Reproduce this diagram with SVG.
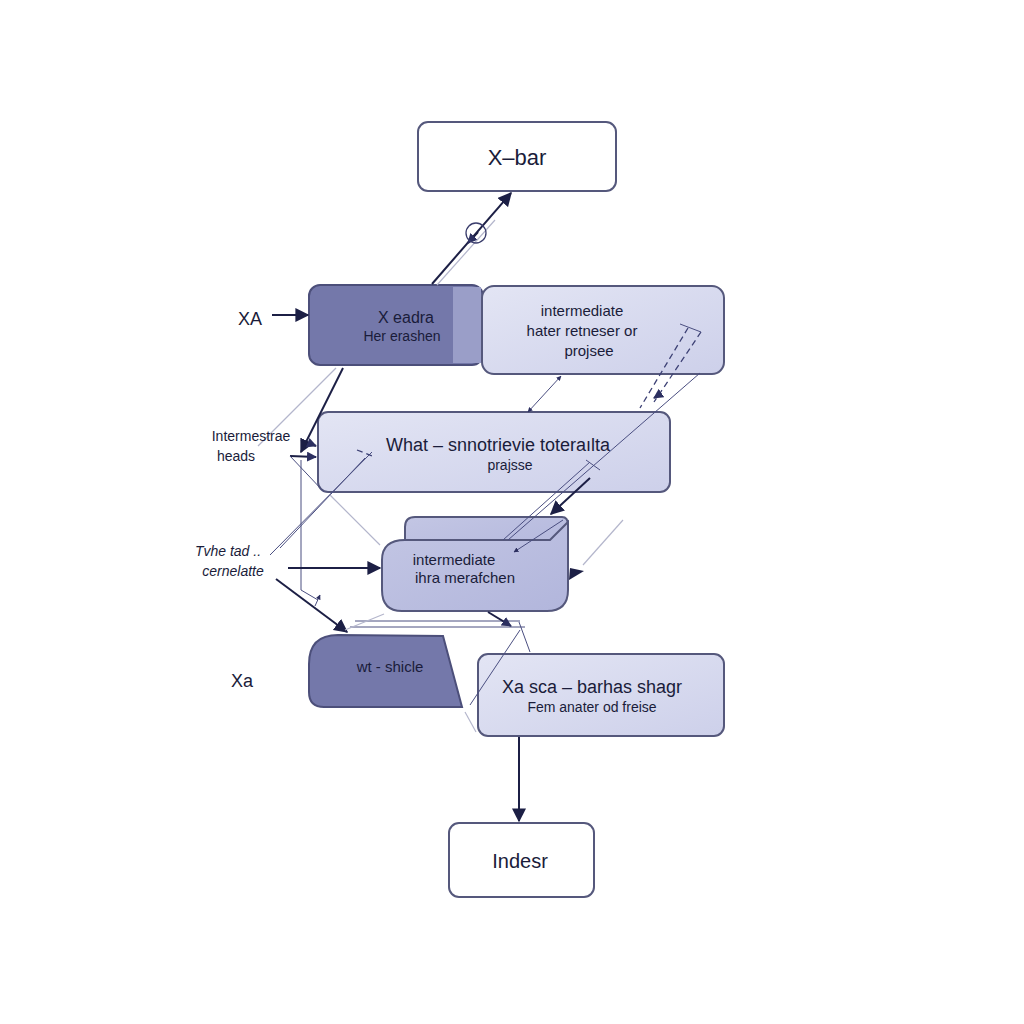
<svg xmlns="http://www.w3.org/2000/svg" width="1024" height="1024" viewBox="0 0 1024 1024">
<defs>
<marker id="ah" viewBox="0 0 10 10" refX="9" refY="5" markerWidth="7" markerHeight="7" orient="auto-start-reverse"><path d="M0,0 L10,5 L0,10 z" fill="#1c1f45"/></marker>
<marker id="ahs" viewBox="0 0 10 10" refX="9" refY="5" markerWidth="5" markerHeight="5" orient="auto-start-reverse"><path d="M0,0 L10,5 L0,10 z" fill="#2c2f60"/></marker>
<linearGradient id="lite" x1="0" y1="0" x2="1" y2="1"><stop offset="0" stop-color="#e3e5f4"/><stop offset="1" stop-color="#cdd0ea"/></linearGradient>
<linearGradient id="mid" x1="0" y1="0" x2="1" y2="1"><stop offset="0" stop-color="#c3c6e4"/><stop offset="1" stop-color="#b2b6dc"/></linearGradient>
<style>
.box{fill:#fff;stroke:#55587c;stroke-width:2}
.lite{fill:url(#lite);stroke:#55587c;stroke-width:2}
.mid{fill:url(#mid);stroke:#55587c;stroke-width:2}
.dark{fill:#7478aa;stroke:#4c4f7a;stroke-width:2}
.t{font-family:"Liberation Sans",Arial,sans-serif;fill:#1a1c3a;text-anchor:middle}
.lb{font-family:"Liberation Sans",Arial,sans-serif;fill:#1a1c3a;text-anchor:middle}
.c{fill:none;stroke:#1c1f45;stroke-width:2}
.thin{fill:none;stroke:#4a4e80;stroke-width:1}
.faint{fill:none;stroke:#b4b6cc;stroke-width:1.2}
.dash{fill:none;stroke:#3d4175;stroke-width:1.3;stroke-dasharray:6 4}
</style>
</defs>
<rect width="1024" height="1024" fill="#fff"/>

<g id="n-xbar">
<rect class="box" x="418" y="122" width="198" height="69" rx="10"/>
<text class="t" x="517" y="165" font-size="22">X–bar</text>
</g>

<g id="n-a">
<rect class="dark" x="309" y="285" width="174" height="80" rx="11"/>
<rect x="453" y="287" width="28" height="76" fill="#9a9ec8"/>
<text class="t" x="406" y="323" font-size="16">X eadra</text>
<text class="t" x="402" y="341" font-size="14">Her erashen</text>
</g>

<g id="n-b">
<rect class="lite" x="482" y="286" width="242" height="88" rx="12"/>
<text class="t" x="582" y="316" font-size="15">intermediate</text>
<text class="t" x="582" y="336" font-size="15">hater retneser or</text>
<text class="t" x="589" y="356" font-size="15">projsee</text>
</g>

<g id="n-c">
<rect class="lite" x="318" y="412" width="352" height="80" rx="10"/>
<text class="t" x="498" y="451" font-size="18">What  – snnotrievie toteraılta</text>
<text class="t" x="510" y="470" font-size="14">prajsse</text>
</g>

<g id="n-d">
<path class="mid" d="M415,517 L562,517 Q568,517 568,525 L568,560 L405,560 L405,527 Q405,517 415,517 z"/>
<path class="mid" d="M405,540 L550,540 L568,522 L568,590 Q568,611 547,611 L402,611 Q382,611 382,590 L382,560 Q382,540 405,540 z"/>
<text class="t" x="454" y="565" font-size="15">intermediate</text>
<text class="t" x="465" y="583" font-size="15">ihra merafchen</text>
</g>

<g id="n-e">
<path class="dark" d="M338,635 L443,636 L462,707 L324,707 Q309,707 309,692 L309,664 Q309,635 338,635 z"/>
<text class="t" x="390" y="672" font-size="15">wt - shicle</text>
</g>

<g id="n-f">
<rect class="lite" x="478" y="654" width="246" height="82" rx="10"/>
<text class="t" x="592" y="693" font-size="18">Xa sca – barhas shagr</text>
<text class="t" x="592" y="712" font-size="14">Fem anater od freise</text>
</g>

<g id="n-index">
<rect class="box" x="449" y="823" width="145" height="74" rx="10"/>
<text class="t" x="520" y="868" font-size="20">Indesr</text>
</g>

<g id="connectors">
<line class="c" x1="272" y1="315" x2="308" y2="315" marker-end="url(#ah)"/>
<line class="c" x1="432" y1="284" x2="511" y2="193" marker-end="url(#ah)"/>
<line class="c" x1="478" y1="232" x2="468" y2="243" marker-end="url(#ahs)"/>
<line class="faint" x1="437" y1="285" x2="495" y2="220"/>
<circle cx="476" cy="233" r="10" fill="none" stroke="#3a3d6c" stroke-width="1.3"/>
<line class="c" x1="343" y1="368" x2="301" y2="452" stroke-width="2.5" marker-end="url(#ah)"/>
<line class="faint" x1="336" y1="368" x2="258" y2="446"/>
<line class="c" x1="301" y1="440" x2="316" y2="446" marker-end="url(#ahs)"/>
<line class="c" x1="290" y1="456" x2="316" y2="457" marker-end="url(#ahs)"/>
<line class="thin" x1="290" y1="456" x2="324" y2="492"/>
<line class="thin" x1="528" y1="412" x2="561" y2="376" marker-start="url(#ahs)" marker-end="url(#ahs)"/>
<line class="dash" x1="688" y1="328" x2="640" y2="408"/>
<line class="dash" x1="701" y1="332" x2="654" y2="402"/>
<line class="thin" x1="680" y1="324" x2="701" y2="332"/>
<line class="c" x1="660" y1="394" x2="654" y2="398" stroke-width="1.5" marker-end="url(#ahs)"/>
<line class="thin" x1="700" y1="373" x2="508" y2="540"/>
<line class="c" x1="590" y1="478" x2="551" y2="514" marker-end="url(#ah)"/>
<line class="thin" x1="590" y1="462" x2="503" y2="540"/>
<line class="thin" x1="586" y1="460" x2="600" y2="470"/>
<line class="thin" x1="563" y1="520" x2="514" y2="552" marker-end="url(#ahs)"/>
<line class="thin" x1="372" y1="452" x2="270" y2="555"/>
<line class="thin" x1="365" y1="458" x2="280" y2="548"/>
<line class="dash" x1="357" y1="450" x2="372" y2="456"/>
<line class="thin" x1="301" y1="460" x2="301" y2="590"/>
<line class="thin" x1="301" y1="590" x2="318" y2="600"/>
<line class="faint" x1="330" y1="495" x2="380" y2="545"/>
<line class="c" x1="288" y1="568" x2="380" y2="568" marker-end="url(#ah)"/>
<line class="c" x1="276" y1="579" x2="347" y2="632" stroke-width="1.8" marker-end="url(#ah)"/>
<line class="thin" x1="315" y1="606" x2="320" y2="595" marker-end="url(#ahs)"/>
<line class="thin" x1="350" y1="627" x2="525" y2="627" stroke-width="1.5"/>
<line class="thin" x1="355" y1="621" x2="520" y2="621" stroke-width="1.5"/>
<line class="c" x1="488" y1="612" x2="511" y2="626" stroke-width="1.5" marker-end="url(#ahs)"/>
<line class="faint" x1="384" y1="614" x2="345" y2="630"/>
<line class="thin" x1="519" y1="622" x2="530" y2="652"/>
<line class="thin" x1="520" y1="630" x2="470" y2="705"/>
<line class="faint" x1="623" y1="520" x2="583" y2="565"/>
<path d="M570,568 L584,571 L569,580 z" fill="#1c1f45"/>
<line class="faint" x1="465" y1="712" x2="476" y2="732"/>
<line class="c" x1="519" y1="737" x2="519" y2="821" marker-end="url(#ah)"/>
</g>

<g id="labels">
<text class="lb" x="250" y="325" font-size="18">XA</text>
<text class="lb" x="251" y="441" font-size="14">Intermestrae</text>
<text class="lb" x="236" y="461" font-size="14">heads</text>
<text class="lb" x="228" y="556" font-size="14" font-style="italic">Tvhe tad ..</text>
<text class="lb" x="233" y="576" font-size="14" font-style="italic">cernelatte</text>
<text class="lb" x="242" y="687" font-size="18">Xa</text>
</g>
</svg>
